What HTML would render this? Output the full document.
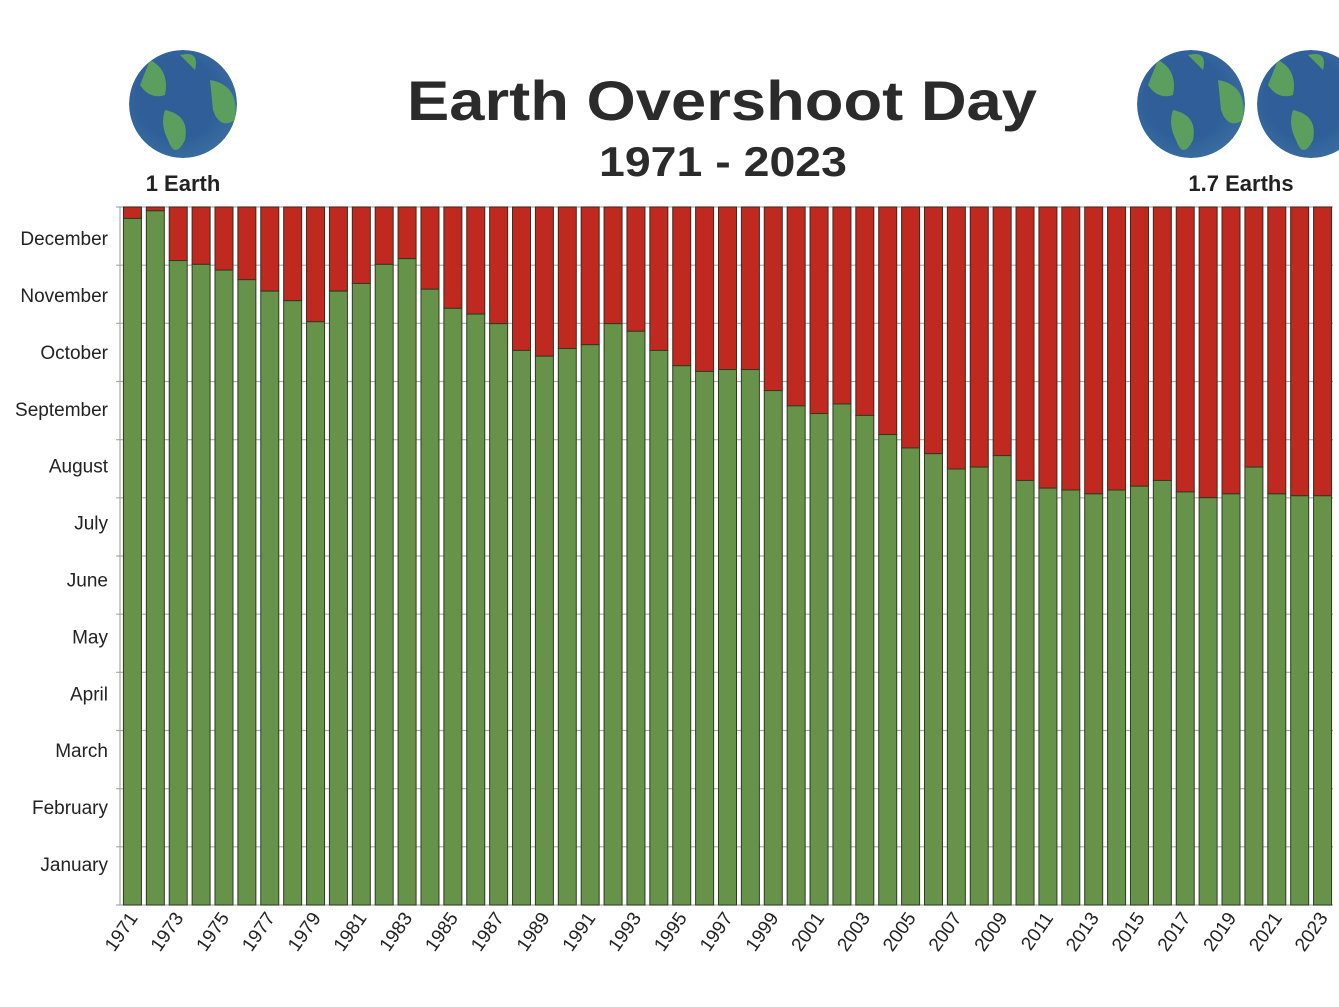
<!DOCTYPE html>
<html><head><meta charset="utf-8"><style>
html,body{margin:0;padding:0;background:#fff;width:1339px;height:1007px;overflow:hidden;font-family:"Liberation Sans",sans-serif;}
</style></head><body>
<svg id="chart" width="1339" height="1007" xmlns="http://www.w3.org/2000/svg">
<defs>
<radialGradient id="sea" cx="0.45" cy="0.45" r="0.6"><stop offset="0.6" stop-color="#2f5e98"/><stop offset="1" stop-color="#3a6ea0"/></radialGradient>
<clipPath id="c1"><circle cx="183" cy="104" r="54"/></clipPath>
<clipPath id="c2"><circle cx="1191" cy="104" r="54"/></clipPath>
<clipPath id="c3"><circle cx="1311" cy="104" r="54"/></clipPath>
</defs>
<g clip-path="url(#c1)">
<circle cx="183" cy="104" r="54" fill="url(#sea)"/>
<path d="M150 60 Q170 70 165 95 Q150 100 140 85 Z M165 110 Q190 115 185 140 Q175 160 168 140 Q160 125 165 110 Z M210 80 Q240 85 235 120 Q220 130 213 110 Z M180 55 Q200 50 195 70 Z" fill="#5b9e5e"/>
</g>
<text x="183" y="191" text-anchor="middle" font-size="22" font-weight="bold" fill="#222">1 Earth</text>
<g clip-path="url(#c2)">
<circle cx="1191" cy="104" r="54" fill="url(#sea)"/>
<path d="M1158 60 Q1178 70 1173 95 Q1158 100 1148 85 Z M1173 110 Q1198 115 1193 140 Q1183 160 1176 140 Q1168 125 1173 110 Z M1218 80 Q1248 85 1243 120 Q1228 130 1221 110 Z M1188 55 Q1208 50 1203 70 Z" fill="#5b9e5e"/>
</g>
<g clip-path="url(#c3)">
<circle cx="1311" cy="104" r="54" fill="url(#sea)"/>
<path d="M1278 60 Q1298 70 1293 95 Q1278 100 1268 85 Z M1293 110 Q1318 115 1313 140 Q1303 160 1296 140 Q1288 125 1293 110 Z M1308 55 Q1328 50 1323 70 Z" fill="#5b9e5e"/>
</g>
<text x="1241" y="191" text-anchor="middle" font-size="22" font-weight="bold" fill="#222">1.7 Earths</text>
<text x="722" y="120" text-anchor="middle" font-size="56" font-weight="bold" fill="#2b2b2b" textLength="630" lengthAdjust="spacingAndGlyphs">Earth Overshoot Day</text>
<text x="723" y="176" text-anchor="middle" font-size="42" font-weight="bold" fill="#2b2b2b" textLength="248" lengthAdjust="spacingAndGlyphs">1971 - 2023</text>
<g id="plot"></g>
</svg>
<script>
const years = [];
for (let y = 1971; y <= 2023; y++) years.push(y);
const overshootDay = [359,363,337,335,332,327,321,316,305,321,325,335,338,322,312,309,304,290,287,291,293,304,300,290,282,279,280,280,269,261,257,262,256,246,239,236,228,229,235,222,218,217,215,217,219,222,216,213,215,229,215,214,214];
const monthLabels = ["January","February","March","April","May","June","July","August","September","October","November","December"];

const NS = "http://www.w3.org/2000/svg";
const plot = document.getElementById("plot");
const X0 = 120, X1 = 1333, Y0 = 207, Y1 = 905;
const step = (X1 - X0) / years.length, barW = 18;
const xScale = i => X0 + i * step + (step - barW) / 2 + 1;
const yScale = d => Y1 - d / 365 * (Y1 - Y0);
function mk(tag, attrs) { const e = document.createElementNS(NS, tag); for (const k in attrs) e.setAttribute(k, attrs[k]); plot.appendChild(e); return e; }

for (let m = 0; m <= 12; m++) {
  const y = Y1 - m * (Y1 - Y0) / 12;
  const g = mk("line", {x1: X0 - 4, x2: X1, y1: y, y2: y, stroke: "#aaa", "stroke-width": 1.2});
  
  
}
monthLabels.forEach((m, i) => {
  const y = 871 - i * 56.9;
  const t = mk("text", {x: 108, y: y, "text-anchor": "end", "font-size": 19, fill: "#222"});
  t.textContent = m;
  
  
});
const ax = mk("line", {x1: X0, x2: X0, y1: Y0, y2: Y1, stroke: "#999", "stroke-width": 1});



years.forEach((yr, i) => {
  const x = xScale(i), yTop = yScale(overshootDay[i]);
  const r = mk("rect", {x: x, y: Y0, width: barW, height: yTop - Y0, fill: "#c0291f", stroke: "#3a2a20", "stroke-width": 1});
  
  
  const g = mk("rect", {x: x, y: yTop, width: barW, height: Y1 - yTop, fill: "#67924a", stroke: "#2f3a25", "stroke-width": 1});
  
  
  if (i % 2 === 0) {
    const cx = x + barW / 2 + 6, cy = 918;
    const t = mk("text", {x: cx, y: cy, "text-anchor": "end", "font-size": 19, fill: "#222", transform: `rotate(-55 ${cx} ${cy})`});
    t.textContent = yr;
    
    
  }
});
</script>
</body></html>
